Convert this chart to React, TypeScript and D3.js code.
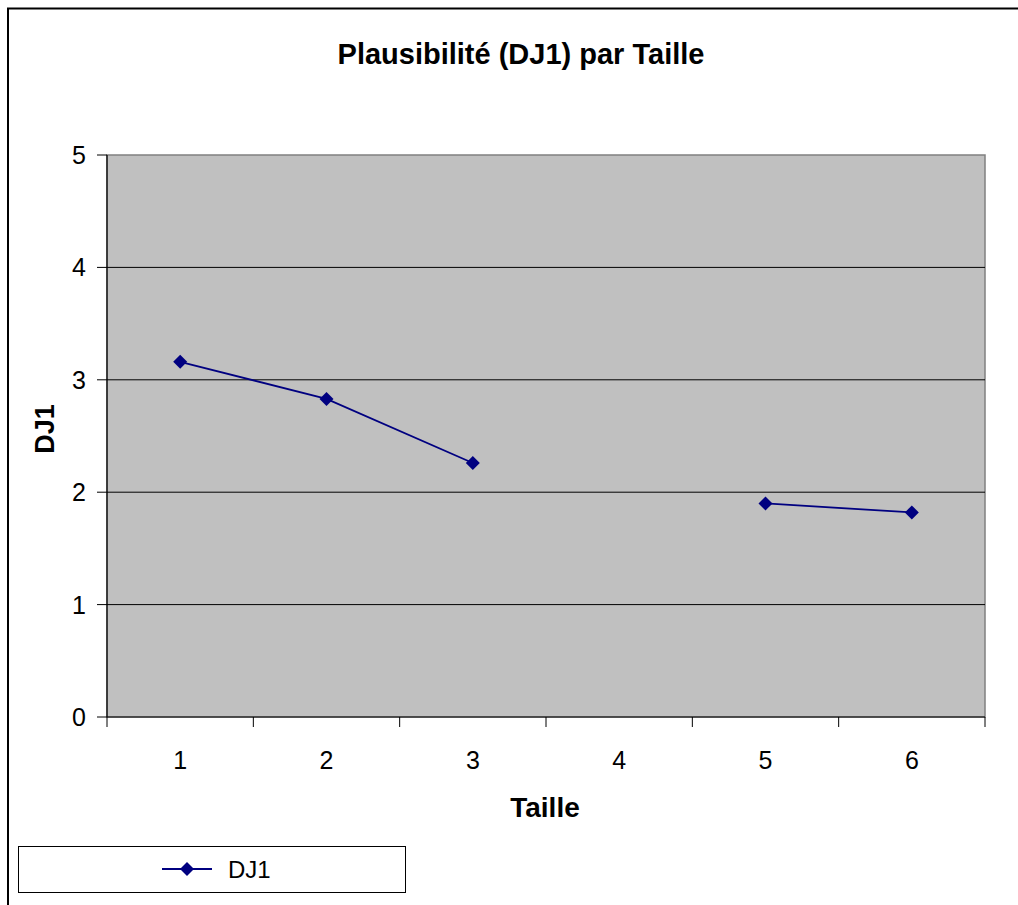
import React from "react";
import * as d3 from "d3";

const categories = ["1", "2", "3", "4", "5", "6"];
const dj1Values: (number | null)[] = [3.16, 2.83, 2.26, null, 1.9, 1.82];
const yTicks = [0, 1, 2, 3, 4, 5];
const titleText = "Plausibilité (DJ1) par Taille";
const xTitle = "Taille";
const yTitle = "DJ1";
const seriesName = "DJ1";

const W = 1018;
const H = 905;
const plot = { left: 107, right: 985, top: 155, bottom: 717 };
const FONT = "Liberation Sans, Arial, sans-serif";
const NAVY = "#000080";

function Diamond({ x, y, r }: { x: number; y: number; r: number }) {
  return <path d={`M${x},${y - r}L${x + r},${y}L${x},${y + r}L${x - r},${y}Z`} fill={NAVY} />;
}

export default function App() {
  const x = d3.scaleBand<string>().domain(categories).range([plot.left, plot.right]).padding(0);
  const y = d3.scaleLinear().domain([0, 5]).range([plot.bottom, plot.top]);
  const cx = (c: string) => (x(c) as number) + x.bandwidth() / 2;

  const pts = categories.map((c, i) => ({ c, v: dj1Values[i] }));
  const line = d3
    .line<{ c: string; v: number | null }>()
    .defined((d) => d.v !== null)
    .x((d) => cx(d.c))
    .y((d) => y(d.v as number));

  const bounds = [...categories.map((c) => x(c) as number), plot.right];

  return (
    <svg width={W} height={H} style={{ position: "absolute", left: 0, top: 0 }} fontFamily={FONT}>
      <rect x={0} y={0} width={W} height={H} fill="#fff" />
      <rect x={8} y={8.5} width={W + 20} height={H + 20} fill="none" stroke="#000" strokeWidth={2} />
      <text x={521} y={64} textAnchor="middle" fontSize={29} fontWeight="bold">
        {titleText}
      </text>

      <rect x={plot.left} y={plot.top} width={plot.right - plot.left} height={plot.bottom - plot.top} fill="#C0C0C0" stroke="#808080" strokeWidth={1.5} />
      {yTicks.filter((t) => t > 0 && t < 5).map((t) => (
        <line key={t} x1={plot.left} x2={plot.right} y1={y(t)} y2={y(t)} stroke="#000" strokeWidth={1} />
      ))}
      <line x1={plot.left} x2={plot.left} y1={plot.top} y2={plot.bottom} stroke="#000" strokeWidth={1.2} />
      <line x1={plot.left} x2={plot.right} y1={plot.bottom} y2={plot.bottom} stroke="#000" strokeWidth={1.2} />
      {yTicks.map((t) => (
        <g key={t}>
          <line x1={plot.left - 10} x2={plot.left} y1={y(t)} y2={y(t)} stroke="#000" strokeWidth={1} />
          <text x={86} y={y(t) + 9} textAnchor="end" fontSize={25}>
            {t}
          </text>
        </g>
      ))}
      {bounds.map((b, i) => (
        <line key={i} x1={b} x2={b} y1={plot.bottom} y2={plot.bottom + 10} stroke="#000" strokeWidth={1} />
      ))}
      {categories.map((c) => (
        <text key={c} x={cx(c)} y={769} textAnchor="middle" fontSize={25}>
          {c}
        </text>
      ))}
      <text x={545} y={817} textAnchor="middle" fontSize={28} fontWeight="bold">
        {xTitle}
      </text>
      <text transform="translate(54,429) rotate(-90)" textAnchor="middle" fontSize={27} fontWeight="bold">
        {yTitle}
      </text>

      <path d={line(pts) || ""} fill="none" stroke={NAVY} strokeWidth={1.8} />
      {pts.filter((d) => d.v !== null).map((d) => (
        <Diamond key={d.c} x={cx(d.c)} y={y(d.v as number)} r={7} />
      ))}

      <rect x={18.5} y={846.5} width={387} height={46} fill="#fff" stroke="#000" strokeWidth={1} />
      <line x1={162} x2={212} y1={869} y2={869} stroke={NAVY} strokeWidth={1.8} />
      <Diamond x={187} y={869} r={7} />
      <text x={228} y={878} fontSize={24}>
        {seriesName}
      </text>
    </svg>
  );
}
